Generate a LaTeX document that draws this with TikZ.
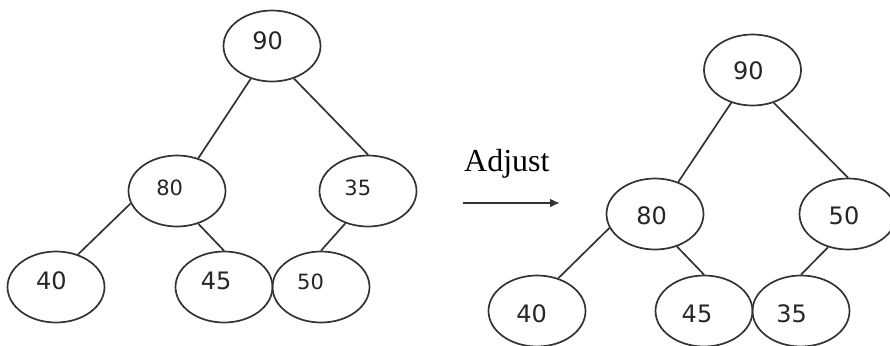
\documentclass[tikz,border=0pt]{standalone}
\usepackage{fontspec}
\setmainfont{Liberation Serif}
\newfontfamily\digitfont{DejaVu Sans}
\usetikzlibrary{shapes.geometric,arrows.meta}
\tikzset{
  x=1pt, y=1pt,
  ink/.style={draw=black!80, line width=1.7pt},
  ell/.style={ink, ellipse, inner sep=0pt, minimum width=97pt, minimum height=71pt},
  numbig/.style={font=\digitfont\fontsize{24}{24}\selectfont, text=black!85, inner sep=0pt},
  numsmall/.style={font=\digitfont\fontsize{21}{21}\selectfont, text=black!85, inner sep=0pt},
  edge/.style={ink, line width=1.7pt},
}
\begin{document}
\begin{tikzpicture}
\clip (0,0) rectangle (890,-345);
\fill[white] (0,0) rectangle (890,-345);

% ---- heap before adjustment ----
\node[ell] (a90) at (272,-46) {};
\node[ell] (a80) at (177,-191) {};
\node[ell] (a35) at (368,-191) {};
\node[ell] (a40) at (56,-287) {};
\node[ell] (a45) at (224,-287) {};
\node[ell] (a50) at (321,-287) {};

\node[numbig]   (ta90) at (267.7,-40.7) {90};
\node[numsmall] (ta80) at (169.7,-188) {80};
\node[numsmall] (ta35) at (357.8,-188) {35};
\node[numbig]   (ta40) at (51.3,-280.8) {40};
\node[numbig]   (ta45) at (216.2,-280.8) {45};
\node[numsmall] (ta50) at (310.5,-281.7) {50};

\draw[edge] (a90.-123) -- (a80.57);
\draw[edge] (a90.-56) -- (a35.90);
\draw[edge] (a80.-165) -- (a40.56);
\draw[edge] (a80.-57) -- (a45.90);
\draw[edge] (a35.-125) -- (a50.90);

% ---- transition ----
\node[font=\fontsize{32}{32}\selectfont, anchor=base west, inner sep=0pt] (adj) at (464,-171) {Adjust};
\coordinate (arS) at (463,-203);
\coordinate (arE) at (560,-203);
\draw[draw=black!80, line width=2.6pt, -{Latex[length=10pt,width=9pt]}] (arS) -- (arE);

% ---- heap after adjustment ----
\node[ell] (b90) at (752.5,-70) {};
\node[ell] (b80) at (655,-214) {};
\node[ell] (b50) at (848,-214) {};
\node[ell] (b40) at (537,-311) {};
\node[ell] (b45) at (704,-311) {};
\node[ell] (b35) at (801,-311) {};

\node[numbig] (tb90) at (748.3,-70.8) {90};
\node[numbig] (tb80) at (651.7,-216.2) {80};
\node[numbig] (tb50) at (844,-216) {50};
\node[numbig] (tb40) at (531.7,-314.2) {40};
\node[numbig] (tb45) at (697,-314) {45};
\node[numbig] (tb35) at (791.7,-314) {35};

\draw[edge] (b90.-123) -- (b80.54);
\draw[edge] (b90.-57) -- (b50.90);
\draw[edge] (b80.-163) -- (b40.57);
\draw[edge] (b80.-56) -- (b45.90);
\draw[edge] (b50.-121) -- (b35.90);
\end{tikzpicture}
\end{document}
